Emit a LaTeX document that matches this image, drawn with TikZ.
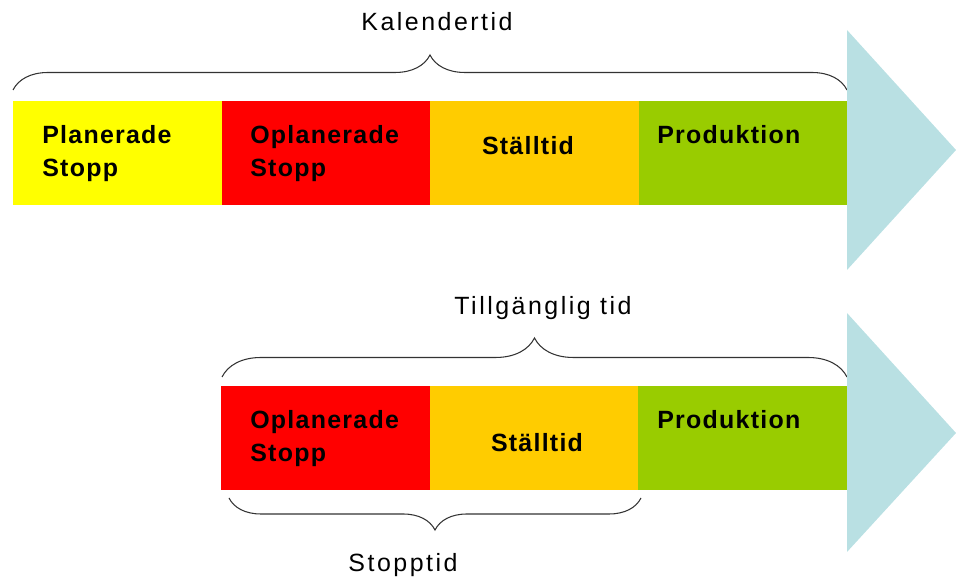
\documentclass[tikz,border=0pt]{standalone}
\usepackage{fontspec}
\setmainfont{Liberation Sans}
\newfontfamily\segfam[LetterSpace=5]{Liberation Sans}
\newfontfamily\lblfam[LetterSpace=10]{Liberation Sans}
\usetikzlibrary{
  positioning,
  decorations.pathreplacing
}
\usepackage{xcolor}
\definecolor{planned}{HTML}{FFFF00}
\definecolor{unplanned}{HTML}{FF0000}
\definecolor{setup}{HTML}{FFCC00}
\definecolor{prod}{HTML}{99CC00}
\definecolor{flow}{HTML}{B9E0E3}

\begin{document}
\begin{tikzpicture}[
  x=0.2mm, y=-0.2mm,
  seg/.style={fill=#1, draw=#1, line width=0.4pt, minimum width=41.6mm,
              minimum height=20.6mm, inner sep=0pt, anchor=north west},
  segtxt/.style={font=\segfam\bfseries\fontsize{14.2}{18.8}\selectfont,
                 align=left, inner sep=0pt},
  lbl/.style={font=\lblfam\fontsize{14.2}{17}\selectfont, inner sep=0pt},
  brace/.style={decorate, decoration={brace, amplitude=7mm},
                line width=0.6pt, black!80}
]
  \useasboundingbox (0,0) rectangle (956,580);

  % Kalendertid row
  \node[seg=planned] (plan1) at (13,101) {};
  \node[seg=unplanned] (unpl1) at (plan1.north east) {};
  \node[seg=setup] (setup1) at (unpl1.north east) {};
  \node[seg=prod] (prod1) at (setup1.north east) {};

  \node[segtxt, anchor=west] (plan1txt) at (42,154) {Planerade\\Stopp};
  \node[segtxt, anchor=west] (unpl1txt) at (250,154) {Oplanerade\\Stopp};
  \node[segtxt] (setup1txt) at (528,146) {Ställtid};
  \node[segtxt, anchor=west] (prod1txt) at (657,135) {Produktion};

  \coordinate (kal-l) at (13,90);
  \coordinate (kal-r) at (847,90);
  \draw[brace] (kal-l) -- (kal-r);
  \node[lbl] (kal) at (437,22) {Kalendertid};

  % Tillgänglig tid row
  \node[seg=unplanned] (unpl2) at (221,386) {};
  \node[seg=setup] (setup2) at (unpl2.north east) {};
  \node[seg=prod] (prod2) at (setup2.north east) {};

  \node[segtxt, anchor=west] (unpl2txt) at (250,439) {Oplanerade\\Stopp};
  \node[segtxt] (setup2txt) at (537,443) {Ställtid};
  \node[segtxt, anchor=west] (prod2txt) at (657,420) {Produktion};

  \coordinate (till-l) at (222,377);
  \coordinate (till-r) at (847,377);
  \draw[brace, decoration={amplitude=7.8mm}] (till-l) -- (till-r);
  \node[lbl] (till) at (543,308) {Tillgänglig tid};

  \coordinate (stopp-r) at (641,498);
  \coordinate (stopp-l) at (229,498);
  \draw[brace, decoration={amplitude=6.4mm}] (stopp-r) -- (stopp-l);
  \node[lbl] (stopp) at (403,565) {Stopptid};

  % arrow heads
  \fill[flow] (847,30) -- (956,150) -- (847,270) -- cycle;
  \fill[flow] (847,313) -- (956,433) -- (847,552) -- cycle;
\end{tikzpicture}
\end{document}
